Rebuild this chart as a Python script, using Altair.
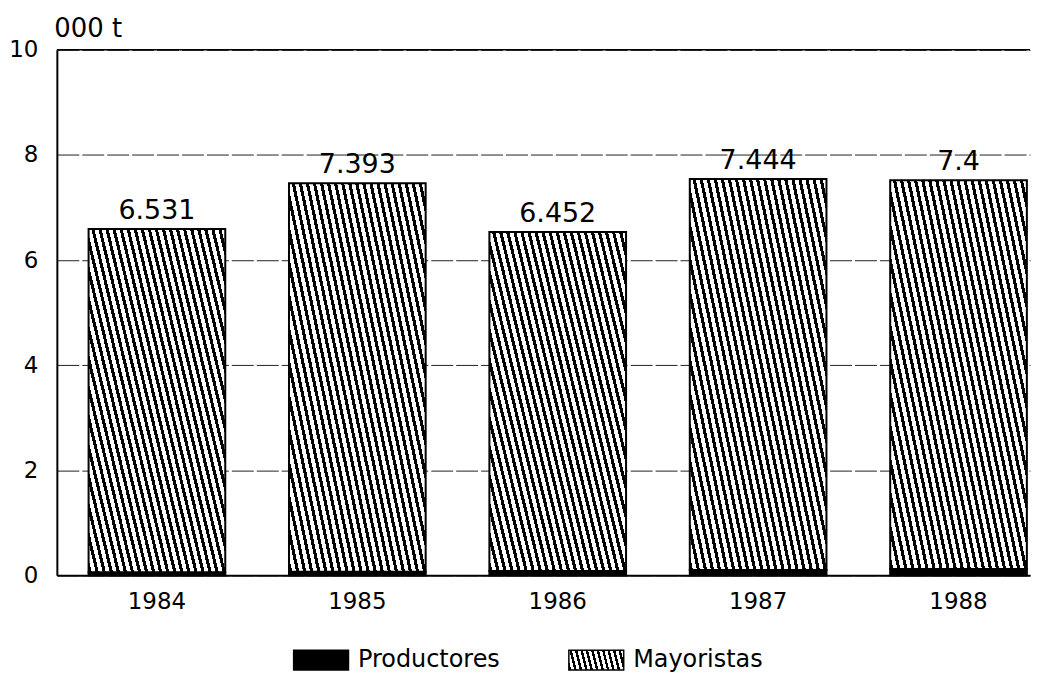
import altair as alt
import pandas as pd

# ---- data ----
years = ["1984", "1985", "1986", "1987", "1988"]
mayoristas = [6.531, 7.393, 6.452, 7.444, 7.4]
productores = [0.06, 0.07, 0.08, 0.10, 0.12]
value_labels = ["6.531", "7.393", "6.452", "7.444", "7.4"]
series_names = ["Productores", "Mayoristas"]
y_ticks = [0, 2, 4, 6, 8, 10]
y_top = [10]

FONT = "DejaVu Sans"
RECT = "M-1,-0.36H1V0.36H-1Z"


def stripes(k, n, duty=0.45):
    """Hard-edged linear gradient that looks like '\\\\' hatching."""
    a = (1 + k) / (1 + k * k)
    stops = []
    for i in range(n):
        s0 = i / n
        s1 = (i + duty) / n
        s2 = (i + 1) / n
        stops += [
            {"offset": s0, "color": "black"},
            {"offset": s1, "color": "black"},
            {"offset": s1, "color": "white"},
            {"offset": s2, "color": "white"},
        ]
    return {"gradient": "linear", "x1": 0, "y1": 1, "x2": a, "y2": 1 - k * a, "stops": stops}


bar_grad = stripes(0.6, 31)
legend_grad = stripes(0.09, 11)

rows = []
for i, yr in enumerate(years):
    rows.append({"year": yr, "serie": "Productores", "ord": 0, "v": productores[i]})
    rows.append({"year": yr, "serie": "Mayoristas", "ord": 1, "v": mayoristas[i]})
long_df = pd.DataFrame(rows)

lab_df = pd.DataFrame({
    "year": years,
    "total": [m + p for m, p in zip(mayoristas, productores)],
    "label": value_labels,
})

leg_df = pd.DataFrame({"serie": series_names})

x_enc = alt.X(
    "year:N",
    sort=years,
    title=None,
    scale=alt.Scale(paddingInner=0.318, paddingOuter=0.087, align=0.91),
    axis=alt.Axis(labelAngle=0, ticks=False, tickSize=0, labelPadding=15,
                  domainColor="black", domainWidth=2, labelFontSize=23),
)

y_enc = alt.Y(
    "v:Q",
    stack="zero",
    scale=alt.Scale(domain=[0, 10], nice=False),
    axis=alt.Axis(
        values=y_ticks, title="000 t", titleAngle=0, titleAlign="left",
        titleBaseline="alphabetic", titleX=-3, titleY=-13, titleFontSize=26,
        titleFontWeight="normal", titleFont=FONT, titleColor="black",
        ticks=False, tickSize=0, labelPadding=19, labelFontSize=23,
        domainColor="black", domainWidth=2,
        grid=True, gridColor="#222222", gridDash=[22, 3], gridWidth=1,
    ),
)

bars = alt.Chart(long_df).mark_bar(stroke="black", strokeWidth=2).encode(
    x=x_enc,
    y=y_enc,
    fill=alt.Fill(
        "serie:N",
        scale=alt.Scale(domain=series_names, range=["black", "white"]),
        legend=None,
        condition={"test": "datum.serie === 'Mayoristas'", "value": bar_grad},
    ),
    order=alt.Order("ord:Q"),
)

text = alt.Chart(lab_df).mark_text(
    dy=-10, baseline="alphabetic", fontSize=27, font=FONT, color="black"
).encode(
    x=alt.X("year:N", sort=years),
    y=alt.Y("total:Q"),
    text="label:N",
)

top_rule = alt.Chart(pd.DataFrame({"t": y_top})).mark_rule(
    color="black", strokeWidth=1.5
).encode(y="t:Q")

main = alt.layer(bars, text, top_rule).properties(width=976, height=527)

# ---- hand-made legend below the plot ----
leg_x = alt.X("serie:N", sort=series_names, axis=None,
              scale=alt.Scale(type="point", padding=0.96))

leg_sym = alt.Chart(leg_df).mark_point(
    shape=RECT, size=3025, filled=True, opacity=1, stroke="black", strokeWidth=1.5
).encode(
    x=leg_x,
    fill=alt.Fill(
        "serie:N",
        scale=alt.Scale(domain=series_names, range=["black", "white"]),
        legend=None,
        condition={"test": "datum.serie === 'Mayoristas'", "value": legend_grad},
    ),
)

leg_txt = alt.Chart(leg_df).mark_text(
    align="left", baseline="middle", dx=37, fontSize=24, font=FONT, color="black"
).encode(x=leg_x, text="serie:N")

legend = alt.layer(leg_sym, leg_txt).properties(width=806, height=20)

chart = alt.vconcat(main, legend, spacing=34).properties(
    padding={"left": 0, "top": 7, "right": 0, "bottom": 0},
    background="white",
).configure_view(stroke=None).configure_axis(
    labelFont=FONT, labelColor="black", titleFont=FONT,
)

chart.save("out.html", embed_options={"renderer": "svg", "actions": False})
